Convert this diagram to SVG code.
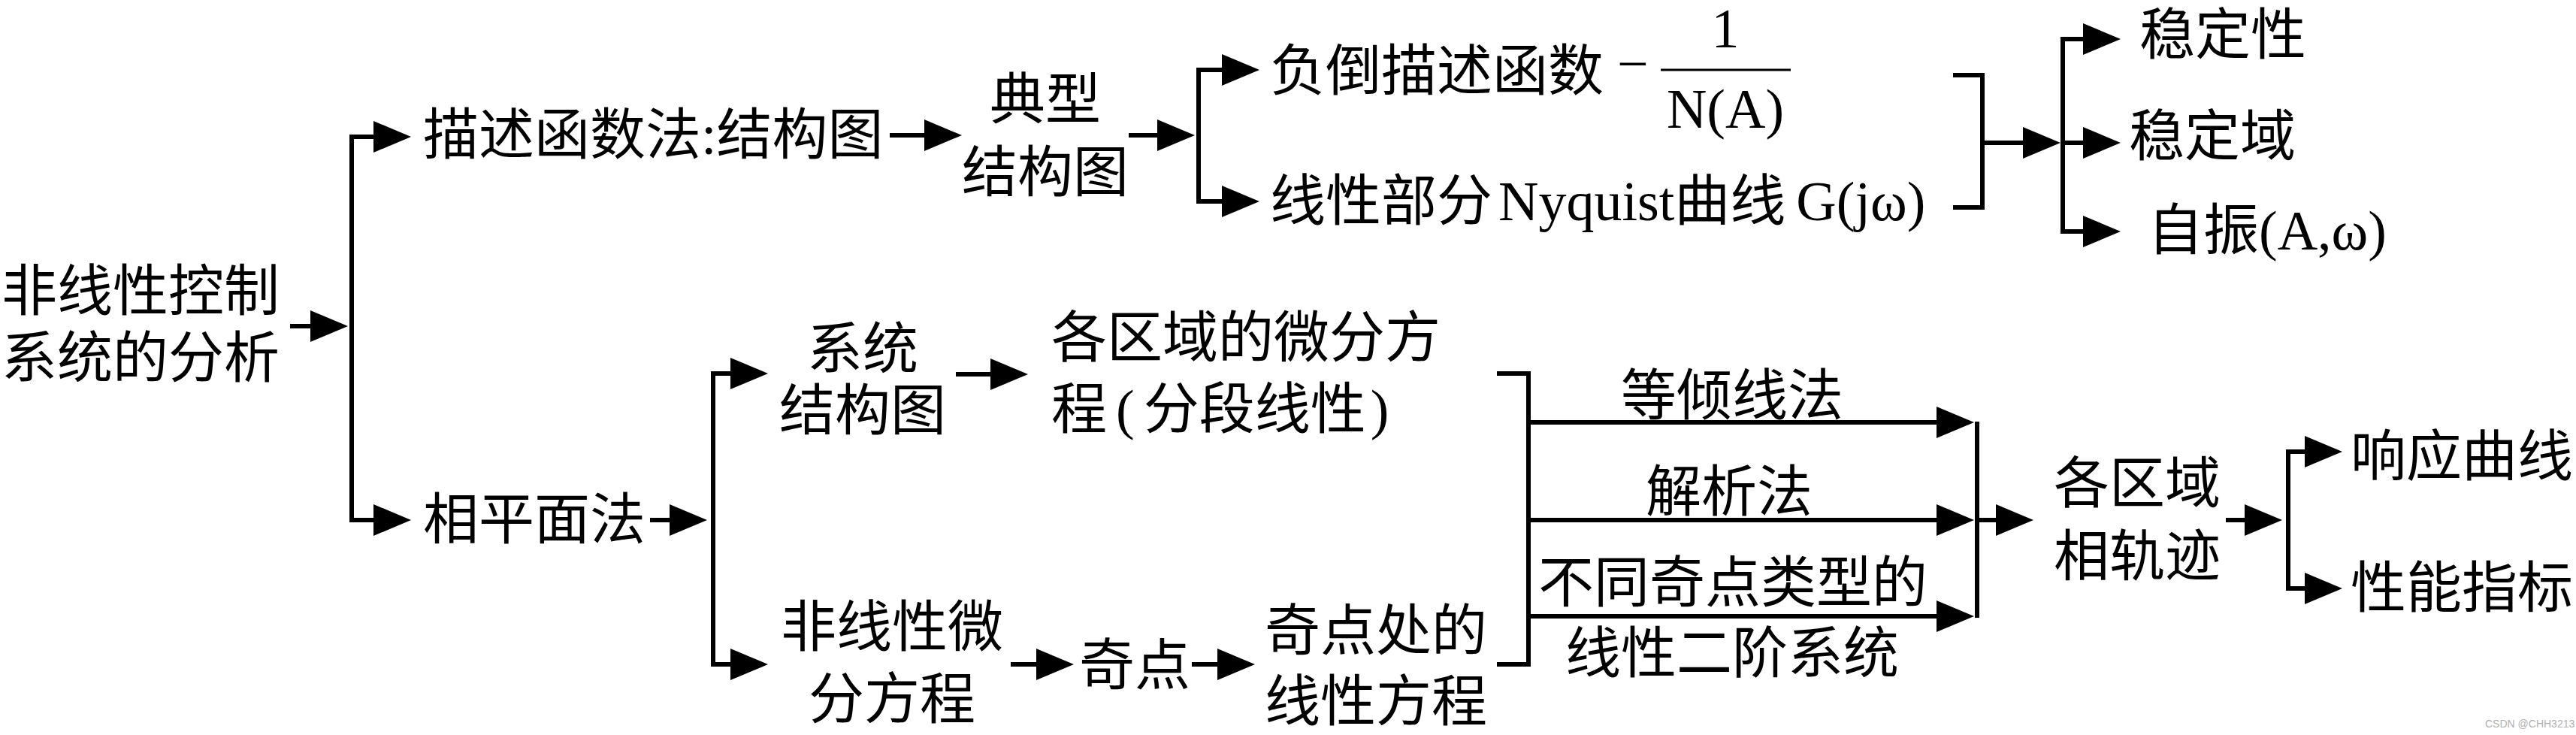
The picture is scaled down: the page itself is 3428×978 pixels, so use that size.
<svg xmlns="http://www.w3.org/2000/svg" width="3428" height="978" viewBox="0 0 3428 978">
<defs>
<style>
text{font-family:"Liberation Serif","Noto Sans CJK SC",serif;font-size:74px;fill:#000}
.m{text-anchor:middle}
.c path{fill:none;stroke:#000;stroke-width:6;stroke-linejoin:miter}
.a{marker-end:url(#ah)}
.wm{font-family:"Liberation Sans","Noto Sans CJK SC",sans-serif;font-size:14px;fill:#b0b0b0}
</style>
<marker id="ah" viewBox="0 0 50 42" markerWidth="50" markerHeight="42" refX="20" refY="21" orient="auto" markerUnits="userSpaceOnUse">
<path d="M0,0 L50,21 L0,42 z" fill="#000"/>
</marker>
</defs>
<rect width="3428" height="978" fill="#fff"/>

<g id="n-root"><text x="2" y="413">非线性控制</text><text x="2" y="502">系统的分析</text></g>
<g id="n-df"><text x="563" y="205">描述函数法:结构图</text></g>
<g id="n-pp"><text x="563" y="717">相平面法</text></g>
<g id="n-typ"><text class="m" x="1391" y="158">典型</text><text class="m" x="1391" y="255">结构图</text></g>
<g id="n-neg"><text x="1690" y="120">负倒描述函数</text><text x="2152" y="110">−</text>
<path d="M2210,93 H2383" stroke="#000" stroke-width="3"/>
<text class="m" x="2296" y="63">1</text><text class="m" x="2296" y="170">N(A)</text></g>
<g id="n-nyq"><text x="1690" y="293">线性部分<tspan dx="8">Nyquist</tspan>曲线<tspan dx="14">G(jω)</tspan></text></g>
<g id="n-st"><text x="2847" y="72">稳定性</text></g>
<g id="n-sd"><text x="2833" y="207">稳定域</text></g>
<g id="n-osc"><text x="2858" y="332">自振(A,ω)</text></g>
<g id="n-sys"><text class="m" x="1148" y="490">系统</text><text class="m" x="1148" y="572">结构图</text></g>
<g id="n-reg"><text x="1399" y="475">各区域的微分方</text><text x="1399" y="570">程<tspan dx="12">(</tspan><tspan dx="12">分段线性</tspan><tspan dx="6">)</tspan></text></g>
<g id="n-nde"><text class="m" x="1187" y="860">非线性微</text><text class="m" x="1187" y="956">分方程</text></g>
<g id="n-sp"><text class="m" x="1510" y="911">奇点</text></g>
<g id="n-spl"><text class="m" x="1831" y="865">奇点处的</text><text class="m" x="1831" y="959">线性方程</text></g>
<g id="n-iso"><text class="m" x="2305" y="552">等倾线法</text></g>
<g id="n-ana"><text class="m" x="2301" y="680">解析法</text></g>
<g id="n-sec"><text class="m" x="2306" y="801">不同奇点类型的</text><text class="m" x="2305" y="895">线性二阶系统</text></g>
<g id="n-traj"><text class="m" x="2844" y="669">各区域</text><text class="m" x="2844" y="766">相轨迹</text></g>
<g id="n-resp"><text x="3128" y="633">响应曲线</text></g>
<g id="n-perf"><text x="3128" y="808">性能指标</text></g>

<g id="connectors" class="c">
<path class="a" d="M386,434 H433"/>
<path class="a" d="M468,437 V182 H517"/>
<path class="a" d="M468,437 V692 H517"/>
<path class="a" d="M1184,180 H1250"/>
<path class="a" d="M1502,180 H1560"/>
<path class="a" d="M1595,180 V93 H1646"/>
<path class="a" d="M1595,180 V268 H1646"/>
<path d="M2599,100 H2638 V276 H2599"/>
<path class="a" d="M2638,190 H2712"/>
<path class="a" d="M2745,190 V52 H2792"/>
<path class="a" d="M2745,190 V308 H2792"/>
<path class="a" d="M2745,190 H2792"/>
<path class="a" d="M865,692 H911"/>
<path class="a" d="M949,692 V497 H992"/>
<path class="a" d="M949,692 V884 H992"/>
<path class="a" d="M1272,498 H1338"/>
<path class="a" d="M1345,884 H1399"/>
<path class="a" d="M1586,884 H1640"/>
<path d="M1992,497 H2034 V884 H1992"/>
<path class="a" d="M2034,562 H2597"/>
<path class="a" d="M2034,692 H2597"/>
<path class="a" d="M2034,820 H2597"/>
<path d="M2631,561 V822"/>
<path class="a" d="M2631,692 H2676"/>
<path class="a" d="M2962,692 H3007"/>
<path class="a" d="M3045,692 V601 H3087"/>
<path class="a" d="M3045,692 V783 H3087"/>
</g>
<text class="wm" x="3307" y="968">CSDN @CHH3213</text>
</svg>
